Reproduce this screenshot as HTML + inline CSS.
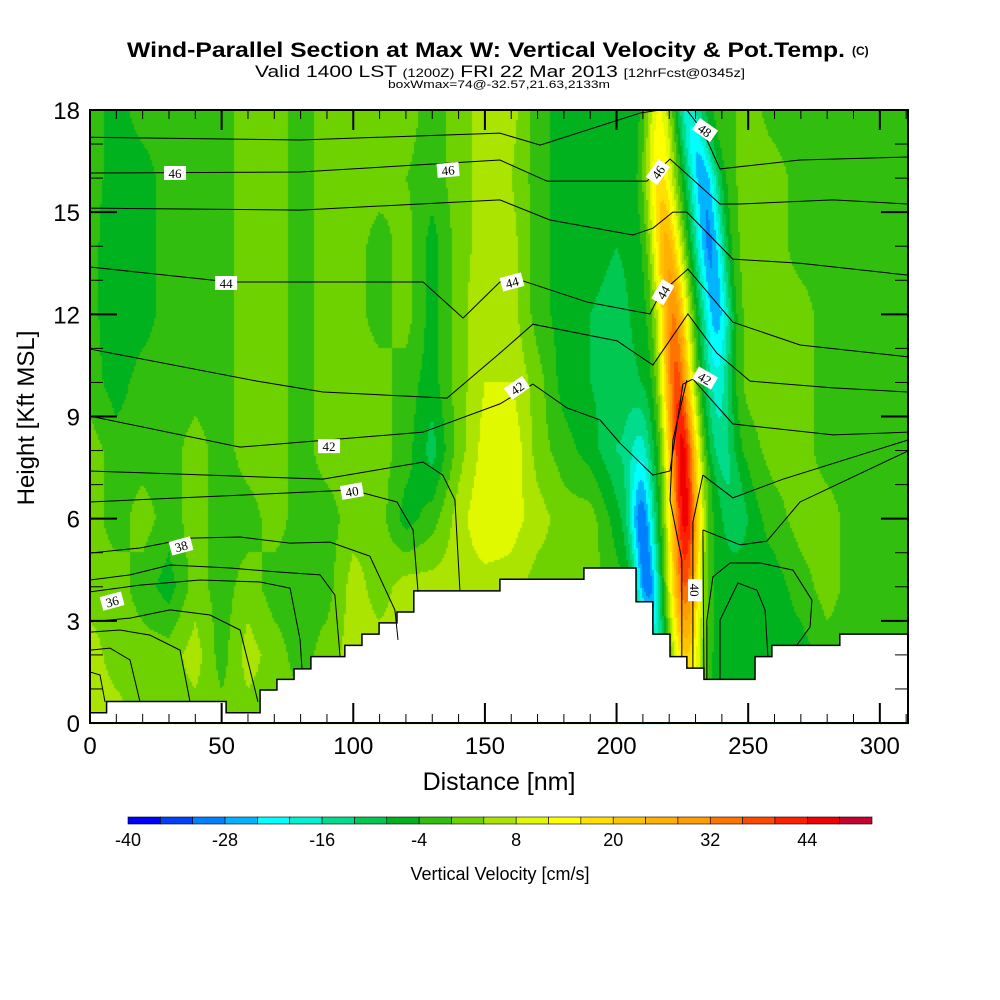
<!DOCTYPE html>
<html><head><meta charset="utf-8">
<style>
html,body{margin:0;padding:0;background:#fff;}
#wrap{position:relative;width:1000px;height:1000px;overflow:hidden;}
canvas,svg{position:absolute;left:0;top:0;}
text{font-family:"Liberation Sans",sans-serif;}
</style></head>
<body>
<div id="wrap">
<canvas id="field" width="1000" height="1000"></canvas>
<svg id="svg" width="1000" height="1000"></svg>
</div>
<script>
// ---- data ----
const gridX = [0,10,20,30,40,50,60,70,80,90,100,110,120,130,140,150,160,170,180,190,200,210,220,230,240,250,260,270,280,290,300,310];
const gridZ = [18,16,14,12,10,8,6,4,2,0];
const w18 = [-2,-6,-2,-2,-2,-2,2,2,-2,2,2,2,2,-2,2,6,6,-2,-6,-6,-8,-8,-4,-4,-2,2,-2,-2,-2,-2,-2,-2];
const w16 = [-2,-6,-6,-2,-2,-2,2,2,-2,2,2,2,0,-2,2,6,4,-2,-6,-6,-8,-6,-4,-4,-2,2,2,-2,-2,-2,-2,-2];
const w14 = [-2,-8,-6,-2,-2,-2,2,2,-2,2,2,-2,2,-6,2,6,6,-2,-6,-6,-8,-6,-4,-4,-2,2,2,-2,-2,-2,-2,-2];
const w12 = [-2,-8,-6,-2,-2,-2,2,2,-2,2,2,-2,2,-6,2,8,6,-2,-6,-8,-10,-6,-4,-4,-2,2,2,2,-2,-2,-2,-2];
const w10 = [-2,-6,-2,-2,-2,-2,2,2,-2,2,2,2,-2,-6,2,8,8,2,-6,-8,-10,-8,-4,-4,-2,2,2,2,-2,-2,-2,-2];
const w8  = [2,-2,-2,-2,2,-2,2,2,-2,2,2,2,-2,-10,2,10,12,2,-2,-6,-12,-10,-4,-4,-2,-2,2,2,-2,-2,-2,-2];
const w6  = [2,-2,2,-2,2,-2,-2,2,-2,-2,2,2,-6,-2,6,12,10,6,2,2,-6,-10,-4,-4,-6,-6,-2,2,2,-2,-2,-2];
const w4  = [2,2,-2,-6,2,-2,2,-2,-2,-2,6,2,6,6,6,6,6,2,2,2,-2,-8,-4,-4,-6,-6,-6,-2,2,-2,-2,-2];
const w2  = [6,2,2,2,6,-2,6,2,-2,2,6,6,6,6,6,6,6,2,2,2,-2,-4,-4,-4,-6,-6,-6,-6,-2,-2,-2,-2];
const w0  = [6,6,2,2,2,2,2,2,2,2,2,2,2,2,2,2,2,2,2,2,2,-4,-4,-4,-6,-6,-6,-2,-2,-2,-2,-2];
const stripZ = [2,4,6,8,10,12,14,16,18];
const updraftX = [226.5,226,226,225,223,221.5,219,216.5,216];
const updraftPeak = [24,40,50,50,42,36,30,22,18];
const eastDownX = [245,245,245,240,238.5,238,235.5,233,227.5];
const eastDownPeak = [0,0,-4,-12,-16,-24,-26,-24,-14];
const westDownX = [215,212,209.5,209,208,207,205,204,203];
const westDownPeak = [-10,-24,-22,-8,0,0,0,0,0];
const terrainEdges = [0,6.3,51.7,64.6,71,77.5,83.9,96.8,103.3,109.8,116.6,123,155.7,187.6,207.4,213.8,220.3,226.7,233.2,252.6,259,284.8,310.7];
const terrainTop = [0.30,0.63,0.30,0.97,1.28,1.59,1.95,2.28,2.61,2.94,3.26,3.88,4.22,4.55,3.56,2.61,1.95,1.61,1.28,1.95,2.28,2.61];
const levels = [-40,-36,-32,-28,-24,-20,-16,-12,-8,-4,0,4,8,12,16,20,24,28,32,36,40,44,48,52];
const levelColors = ["#0000ff","#0040ff","#0080ff","#00b4ff","#00ffff","#00f0d0","#00dc8c","#00c850","#00b21e","#32be0f","#6ed200","#aae400","#e0f800","#ffff00","#ffe000","#ffc400","#ffb000","#ff9c00","#ff7400","#ff4800","#ff2000","#f00000","#c80030"];
const cbarLabels = [-40,-28,-16,-4,8,20,32,44];
const xTicks = [0,50,100,150,200,250,300];
const yTicks = [0,3,6,9,12,15,18];
const contours = [
 [0,17.2, 79.8,17.12, 155.7,17.32, 171,16.97, 208.9,17.91, 216.5,18],
 [226.7,18, 232.8,17.38, 239.3,16.27, 269.7,16.53, 310.7,16.62],
 [0,16.15, 79.8,16.18, 155.7,16.53, 173.6,15.91, 211.5,15.91, 216,16.24, 220.3,16.56, 239.3,15.24, 246.9,15.24, 282.2,15.36, 310.7,15.24],
 [0,15.12, 79.8,15.06, 155.7,15.36, 174.7,14.77, 206.2,14.33, 213.8,14.53, 221.4,15, 226.7,15, 244.2,13.62, 269.7,13.5, 310.7,13.15],
 [0,13.39, 53.2,12.95, 126.5,12.95, 141.7,11.89, 155.7,12.95, 164.5,12.98, 188.8,12.36, 212.7,12.01, 216.5,12.6, 227.1,13.33, 244.2,11.77, 269.7,11.1, 310.7,10.75],
 [0,10.98, 63.4,10.04, 88.5,9.72, 135.6,9.54, 155.7,10.86, 168.2,11.71, 200.2,11.22, 213.8,10.51, 227.1,12.01, 238.1,10.86, 250.7,10.04, 282.2,9.84, 310.7,9.72],
 [0,9.01, 57,8.1, 126.5,8.54, 155.7,9.37, 168.2,9.95, 181.2,9.25, 193.7,8.9, 201.3,8.22, 213.8,7.28, 220.3,7.4, 225.2,9.95, 229,10.1, 244.2,8.78, 282.2,8.46, 310.7,8.54],
 [0,7.4, 88.5,7.16, 126.5,7.66, 134,7.28, 138.6,6.55, 140.5,3.9],
 [0,6.49, 99.5,6.84, 116.6,6.49, 122.7,5.67, 124.6,3.85],
 [0,4.99, 19,5.14, 38,5.43, 57,5.46, 76,5.28, 91.2,5.31, 106.3,4.9, 115.8,3.32, 117,2.44],
 [0,4.2, 15.2,4.35, 30.4,4.64, 53.2,4.55, 72.2,4.43, 87.4,4.35, 93,3.76, 95,1.94],
 [0,3.85, 19,4.05, 41.8,4.2, 64.6,4.14, 76,3.96, 79.8,2.44, 80.5,1.61],
 [0,2.97, 15.2,3.08, 30.4,3.32, 45.6,3.17, 57,2.73, 62.7,0.97, 63.8,0.62],
 [0,2.67, 11.4,2.73, 22.8,2.58, 34.2,2.14, 38,0.62],
 [0,2.14, 7.6,2.2, 15.2,1.85, 19,0.62],
 [0,1.5, 3.8,1.41, 5.7,0.62],
 [226.7,10.07, 221.4,8.31, 220.3,6.55, 224.8,4.79, 224.8,1.94],
 [232.8,7.28, 229,5.9, 229,1.61],
 [232.8,5.67, 233.2,1.35],
 [232.8,5.67, 246.9,5.23, 257.1,5.34, 269.7,6.49, 310.7,7.99],
 [232.8,7.28, 244.2,6.61, 263.2,7.16, 310.7,8.31],
 [234.3,1.29, 234.3,3.02, 236.6,4.29, 243.1,4.7, 254.5,4.7, 267,4.49, 274.2,3.61, 273.5,2.82, 268.5,2.29],
 [239.3,1.29, 239.3,3.02, 246.1,4.11, 253.3,3.9, 256.4,3.32, 257.5,1.94]
];
const labelX = [32.3,136,215.7,233.6,51.7,160.3,217.6,90.8,162.2,233.6,99.5,229.8,34.6,8.4];
const labelZ = [16.15,16.24,16.18,17.41,12.92,12.95,12.65,8.13,9.84,10.13,6.81,3.9,5.2,3.58];
const labelText = ["46","46","46","48","44","44","44","42","42","42","40","40","38","36"];
const labelAngle = [0,-5,-55,35,0,-15,-60,0,-35,30,-10,90,-15,-15];

// ---- scales ----
const X0=90,X1=908,Y0=723,Y1=110,XMAX=310.7,ZMAX=18;
const sx = v => X0 + v/XMAX*(X1-X0);
const sy = v => Y0 - v/ZMAX*(Y0-Y1);
const NS="http://www.w3.org/2000/svg";
const svg=document.getElementById('svg');
function mk(tag,attrs,parent){const e=document.createElementNS(NS,tag);for(const k in attrs)e.setAttribute(k,attrs[k]);(parent||svg).appendChild(e);return e;}

// ---- field ----
const rows=[w18,w16,w14,w12,w10,w8,w6,w4,w2,w0];
function interp(arr,xs,v){
 if(v<=xs[0])return arr[0]; if(v>=xs[xs.length-1])return arr[arr.length-1];
 for(let i=0;i<xs.length-1;i++){if(v<=xs[i+1]){const t=(v-xs[i])/(xs[i+1]-xs[i]);return arr[i]*(1-t)+arr[i+1]*t;}}
}
function bg(nm,z){
 const zi=(ZMAX-z)/2; const r0=Math.max(0,Math.min(rows.length-2,Math.floor(zi))); const tz=Math.min(1,Math.max(0,zi-r0));
 const ci=nm/10; const c0=Math.max(0,Math.min(gridX.length-2,Math.floor(ci))); const tx=Math.min(1,Math.max(0,ci-c0));
 const a=rows[r0][c0]*(1-tx)+rows[r0][c0+1]*tx, b=rows[r0+1][c0]*(1-tx)+rows[r0+1][c0+1]*tx;
 return a*(1-tz)+b*tz;
}
function gauss(nm,c,p,s){const d=(nm-c)/s;return p*Math.exp(-0.5*d*d);}
function wval(nm,z){
 let v=bg(nm,z);
 v+=gauss(nm,interp(updraftX,stripZ,z),interp(updraftPeak,stripZ,z),4.2);
 v+=gauss(nm,interp(eastDownX,stripZ,z),interp(eastDownPeak,stripZ,z),4.2);
 v+=gauss(nm,interp(westDownX,stripZ,z),interp(westDownPeak,stripZ,z),3.3);
 return v;
}
function colorOf(v){let i=Math.floor((v-levels[0])/4);i=Math.max(0,Math.min(levelColors.length-1,i));return levelColors[i];}
const ctx=document.getElementById('field').getContext('2d');
const P=2;
for(let py=Y1;py<Y0;py+=P){for(let px=X0;px<X1;px+=P){
 const nm=(px+P/2-X0)/(X1-X0)*XMAX, z=(Y0-(py+P/2))/(Y0-Y1)*ZMAX;
 ctx.fillStyle=colorOf(wval(nm,z)); ctx.fillRect(px,py,P,P);
}}

// ---- terrain ----
let tp=`M${sx(0)},${Y0}`;
for(let i=0;i<terrainTop.length;i++){tp+=` L${sx(terrainEdges[i])},${sy(terrainTop[i])} L${sx(terrainEdges[i+1])},${sy(terrainTop[i])}`;}
tp+=` L${X1},${Y0} Z`;
const terr=mk('path',{d:tp,fill:'#fff',stroke:'#000','stroke-width':1.5});



// ---- contours ----
const cg=mk('g',{fill:'none',stroke:'#000','stroke-width':1});


contours.forEach(c=>{let pts=[];for(let i=0;i<c.length;i+=2)pts.push(sx(c[i])+','+sy(c[i+1]));
 const pl=mk('polyline',{points:pts.join(' ')},cg);
 
 });
labelText.forEach((t,i)=>{
 const g=mk('g',{transform:`translate(${sx(labelX[i])},${sy(labelZ[i])}) rotate(${labelAngle[i]})`});
 
 
 mk('rect',{x:-11,y:-7,width:22,height:14,fill:'#fff'},g);
 const tx=mk('text',{x:0,y:5,'text-anchor':'middle','font-size':13,fill:'#000'},g);
 tx.style.fontFamily='"Liberation Serif",serif'; tx.textContent=t;
});

// ---- frame & ticks ----
const fr=mk('rect',{x:X0,y:Y1,width:X1-X0,height:Y0-Y1,fill:'none',stroke:'#000','stroke-width':2});


const tg=mk('g',{stroke:'#000'});


for(let v=0;v<=310;v+=10){const x=sx(v),L=(v%50===0)?20:9,wd=(v%50===0)?2:1;
 mk('line',{x1:x,y1:Y0,x2:x,y2:Y0-L,'stroke-width':wd},tg);mk('line',{x1:x,y1:Y1,x2:x,y2:Y1+L,'stroke-width':wd},tg);}
for(let v=0;v<=18;v+=1){const y=sy(v),L=(v%3===0)?27:13,wd=(v%3===0)?2:1;
 mk('line',{x1:X0,y1:y,x2:X0+L,y2:y,'stroke-width':wd},tg);mk('line',{x1:X1,y1:y,x2:X1-L,y2:y,'stroke-width':wd},tg);}
xTicks.forEach(v=>{const t=mk('text',{x:sx(v),y:754,'text-anchor':'middle','font-size':24});t.textContent=v;
 
 });
yTicks.forEach(v=>{const t=mk('text',{x:80,y:sy(v)+9,'text-anchor':'end','font-size':24});t.textContent=v;
 
 });
const xt=mk('text',{x:499,y:790,'text-anchor':'middle','font-size':25});xt.textContent='Distance [nm]';


const yt=mk('text',{x:0,y:0,'text-anchor':'middle','font-size':24,transform:'translate(34,418) rotate(-90)'});yt.textContent='Height [Kft MSL]';



// ---- titles ----
const t1=mk('text',{x:127,y:57,'font-size':21,'font-weight':'bold',textLength:718,lengthAdjust:'spacingAndGlyphs'});t1.textContent='Wind-Parallel Section at Max W: Vertical Velocity & Pot.Temp.';


const tc=mk('text',{x:852,y:55,'font-size':12,'font-weight':'bold'});tc.textContent='(C)';


const t2=mk('text',{x:255,y:77,'font-size':17,textLength:490,lengthAdjust:'spacingAndGlyphs'});
t2.innerHTML='Valid 1400 LST <tspan font-size="12">(1200Z)</tspan> FRI 22 Mar 2013 <tspan font-size="12">[12hrFcst@0345z]</tspan>';


const t3=mk('text',{x:388,y:88,'font-size':11,textLength:222,lengthAdjust:'spacingAndGlyphs'});t3.textContent='boxWmax=74@-32.57,21.63,2133m';



// ---- colorbar ----
const cb=mk('g',{});


const CB0=128,CB1=872,cbx=v=>CB0+(v-levels[0])/(levels[levels.length-1]-levels[0])*(CB1-CB0);
levelColors.forEach((c,i)=>{const r=mk('rect',{x:cbx(levels[i]),y:817,width:cbx(levels[i+1])-cbx(levels[i]),height:7,fill:c,stroke:'#000','stroke-width':0.6},cb);
 
 });
cbarLabels.forEach(v=>{const t=mk('text',{x:cbx(v),y:846,'text-anchor':'middle','font-size':18},cb);t.textContent=v;
 
 });
const ct=mk('text',{x:500,y:880,'text-anchor':'middle','font-size':18});ct.textContent='Vertical Velocity [cm/s]';


</script>
</body></html>
